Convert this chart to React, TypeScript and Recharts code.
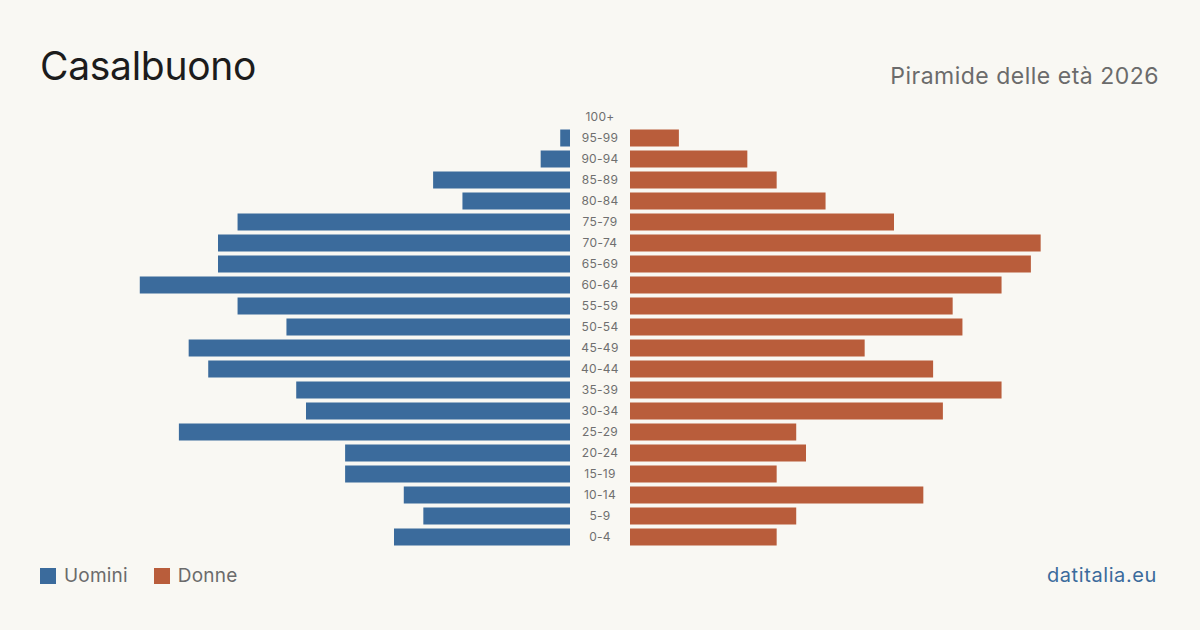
import React from 'react';
import { BarChart, Bar, XAxis, YAxis } from 'recharts';

// Age classes, top of the pyramid first
const ageGroups = [
  '100+', '95-99', '90-94', '85-89', '80-84', '75-79', '70-74', '65-69', '60-64', '55-59',
  '50-54', '45-49', '40-44', '35-39', '30-34', '25-29', '20-24', '15-19', '10-14', '5-9', '0-4',
];
const men = [0, 1, 3, 14, 11, 34, 36, 36, 44, 34, 29, 39, 37, 28, 27, 40, 23, 23, 17, 15, 18];
const women = [0, 5, 12, 15, 20, 27, 42, 41, 38, 33, 34, 24, 31, 38, 32, 17, 18, 15, 30, 17, 15];

const rows = ageGroups.map((age, i) => ({ age, men: men[i], women: women[i] }));

const BG = '#f9f8f3';
const BLUE = '#3b6b9c';
const ORANGE = '#b95d3b';
const FONT = 'Inter, "Noto Sans", sans-serif';
const MAX = 45;
const TOP = 106.5;
const BOTTOM = 630 - 547.5;

const AgeTick = (props: any) => {
  const { y, payload } = props;
  return (
    <text x={30} y={y} dy="0.355em" textAnchor="middle" fontSize={12} letterSpacing={0.3}
      fill="#6f6f6f" fontFamily={FONT}>
      {payload.value}
    </text>
  );
};

const App: React.FC = () => {
  return (
    <div style={{ position: 'absolute', left: 0, top: 0, width: 1200, height: 630, background: BG, fontFamily: FONT, overflow: 'hidden' }}>
      <div style={{ position: 'absolute', left: 40, top: 40, fontSize: 39, color: '#1c1c1c', lineHeight: '52px', letterSpacing: -0.3 }}>
        Casalbuono
      </div>
      <div style={{ position: 'absolute', right: 41, top: 61, fontSize: 23, color: '#6b6b6b', lineHeight: '30px', letterSpacing: 0.5 }}>
        Piramide delle età 2026
      </div>

      {/* men, growing leftwards */}
      <div style={{ position: 'absolute', left: 0, top: 0 }}>
        <BarChart width={600} height={630} data={rows} layout="vertical"
          margin={{ top: TOP, bottom: BOTTOM, left: 130, right: 30 }} barCategoryGap={0}>
          <XAxis type="number" domain={[0, MAX]} reversed hide />
          <YAxis type="category" dataKey="age" hide />
          <Bar dataKey="men" fill={BLUE} barSize={17} isAnimationActive={false} />
        </BarChart>
      </div>

      {/* women, growing rightwards, with age labels in the middle */}
      <div style={{ position: 'absolute', left: 570, top: 0 }}>
        <BarChart width={630} height={630} data={rows} layout="vertical"
          margin={{ top: TOP, bottom: BOTTOM, left: 0, right: 130 }} barCategoryGap={0}>
          <XAxis type="number" domain={[0, MAX]} hide />
          <YAxis type="category" dataKey="age" width={60} axisLine={false} tickLine={false}
            interval={0} tick={<AgeTick />} />
          <Bar dataKey="women" fill={ORANGE} barSize={17} isAnimationActive={false} />
        </BarChart>
      </div>

      <div style={{ position: 'absolute', left: 40, top: 564, display: 'flex', alignItems: 'center', fontSize: 19, color: '#6b6b6b', lineHeight: '24px', letterSpacing: 0.2 }}>
        <span style={{ width: 16, height: 16, background: BLUE, display: 'inline-block', marginRight: 8 }} />
        <span style={{ marginRight: 26 }}>Uomini</span>
        <span style={{ width: 16, height: 16, background: ORANGE, display: 'inline-block', marginRight: 8 }} />
        <span>Donne</span>
      </div>
      <div style={{ position: 'absolute', right: 43, top: 562, fontSize: 20, color: BLUE, lineHeight: '26px', letterSpacing: 0.6 }}>
        datitalia.eu
      </div>
    </div>
  );
};

export default App;
